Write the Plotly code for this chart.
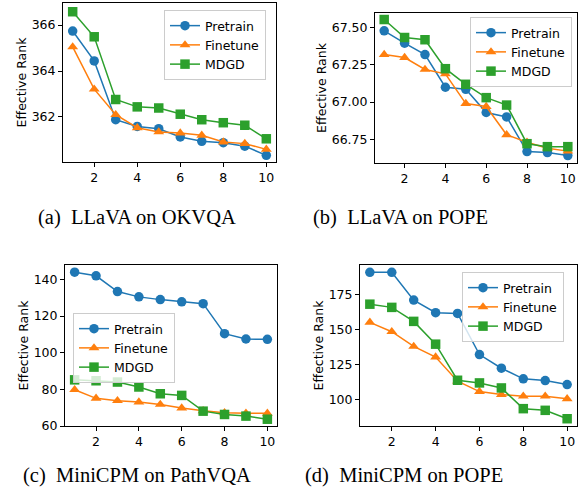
import plotly.graph_objects as go

layers = [1, 2, 3, 4, 5, 6, 7, 8, 9, 10]
series_names = ["Pretrain", "Finetune", "MDGD"]

# (a) LLaVA on OKVQA
a_pretrain = [365.74, 364.44, 361.88, 361.59, 361.49, 361.13, 360.94, 360.88, 360.73, 360.33]
a_finetune = [365.05, 363.21, 362.10, 361.53, 361.35, 361.30, 361.20, 360.91, 360.84, 360.59]
a_mdgd = [366.58, 365.49, 362.76, 362.44, 362.39, 362.12, 361.88, 361.75, 361.64, 361.05]

# (b) LLaVA on POPE
b_pretrain = [67.48, 67.397, 67.32, 67.10, 67.086, 66.93, 66.90, 66.667, 66.66, 66.64]
b_finetune = [67.32, 67.30, 67.22, 67.19, 66.99, 66.97, 66.78, 66.73, 66.69, 66.67]
b_mdgd = [67.556, 67.435, 67.42, 67.225, 67.12, 67.03, 66.98, 66.72, 66.70, 66.70]

# (c) MiniCPM on PathVQA
c_pretrain = [144.0, 142.0, 133.4, 130.5, 129.0, 127.8, 126.8, 110.4, 107.5, 107.3]
c_finetune = [79.8, 75.1, 73.8, 73.1, 71.8, 69.8, 68.3, 67.2, 67.0, 66.9]
c_mdgd = [85.2, 84.7, 84.0, 81.3, 77.6, 76.7, 68.1, 66.3, 65.4, 63.7]

# (d) MiniCPM on POPE
d_pretrain = [190.8, 190.8, 170.9, 161.9, 161.4, 132.0, 122.2, 114.6, 113.4, 110.5]
d_finetune = [155.0, 148.3, 137.8, 130.2, 112.9, 105.5, 103.4, 102.2, 102.2, 100.3]
d_mdgd = [168.0, 165.7, 155.7, 139.4, 113.6, 111.7, 108.1, 93.3, 92.1, 86.1]

captions = ["(a)  LLaVA on OKVQA", "(b)  LLaVA on POPE",
            "(c)  MiniCPM on PathVQA", "(d)  MiniCPM on POPE"]
y_ticks = [[362, 364, 366], [66.75, 67.00, 67.25, 67.50],
           [60, 80, 100, 120, 140], [100, 125, 150, 175]]
x_ticks = [2, 4, 6, 8, 10]

W, H = 580, 495
colors = ["#1f77b4", "#ff7f0e", "#2ca02c"]
symbols = ["circle", "triangle-up", "square"]

panels = [
    dict(data=[a_pretrain, a_finetune, a_mdgd], box=(63, 276, 3, 162), yr=(360.04, 366.96),
         leg=(164, 10), cap=(137, 218), fmt=None),
    dict(data=[b_pretrain, b_finetune, b_mdgd], box=(375, 577, 13, 163), yr=(66.59, 67.60),
         leg=(470, 17), cap=(400, 218), fmt=".2f"),
    dict(data=[c_pretrain, c_finetune, c_mdgd], box=(65, 277, 265, 426), yr=(60.0, 147.9),
         leg=(73, 313), cap=(137, 475), fmt=None),
    dict(data=[d_pretrain, d_finetune, d_mdgd], box=(360, 577, 265, 426), yr=(80.9, 196.0),
         leg=(462, 272), cap=(404, 475), fmt=None),
]

fig = go.Figure()
layout = dict(width=W, height=H, margin=dict(l=0, r=0, t=0, b=0, autoexpand=False),
              paper_bgcolor="white", plot_bgcolor="white",
              font=dict(family="DejaVu Sans", size=12.5, color="black"))
annotations = []
tickfont = dict(family="DejaVu Sans", size=12.5, color="black")

for i, p in enumerate(panels):
    k = "" if i == 0 else str(i + 1)
    x0, x1, y0, y1 = p["box"]
    legname = "legend" + k
    for j in range(3):
        fig.add_trace(go.Scatter(
            x=layers, y=p["data"][j], name=series_names[j], mode="lines+markers",
            line=dict(color=colors[j], width=1.5),
            marker=dict(symbol=symbols[j], size=9.5, color=colors[j]),
            xaxis="x" + k, yaxis="y" + k, legend=legname, showlegend=True))
    layout["xaxis" + k] = dict(
        domain=[x0 / W, x1 / W], anchor="y" + k, range=[0.55, 10.45], automargin=False,
        tickvals=x_ticks, showline=True, mirror=True, linecolor="black", linewidth=1,
        ticks="outside", ticklen=4, tickcolor="black", showgrid=False, zeroline=False,
        tickfont=tickfont)
    ya = dict(
        domain=[1 - y1 / H, 1 - y0 / H], anchor="x" + k, range=list(p["yr"]), automargin=False,
        tickvals=y_ticks[i], showline=True, mirror=True, linecolor="black", linewidth=1,
        ticks="outside", ticklen=4, tickcolor="black", showgrid=False, zeroline=False,
        tickfont=tickfont,
        title=dict(text="Effective Rank", font=dict(family="DejaVu Sans", size=12.5), standoff=1.5))
    if p["fmt"]:
        ya["tickformat"] = p["fmt"]
    layout["yaxis" + k] = ya
    lx, ly = p["leg"]
    layout[legname] = dict(
        x=lx / W, y=1 - ly / H, xanchor="left", yanchor="top",
        bgcolor="rgba(255,255,255,0.8)", bordercolor="#cccccc", borderwidth=1,
        font=dict(family="DejaVu Sans", size=12.5, color="black"),
        tracegroupgap=0, itemwidth=30)
    cx, cy = p["cap"]
    annotations.append(dict(
        text=captions[i], x=cx / W, y=1 - cy / H, xref="paper", yref="paper",
        xanchor="center", yanchor="middle", showarrow=False,
        font=dict(family="Liberation Serif", size=20.5, color="black")))

layout["annotations"] = annotations
fig.update_layout(**layout)
fig.write_html("out.html", config={"displayModeBar": False},
               post_script="document.body.style.margin='0px';document.body.style.overflow='hidden';")
